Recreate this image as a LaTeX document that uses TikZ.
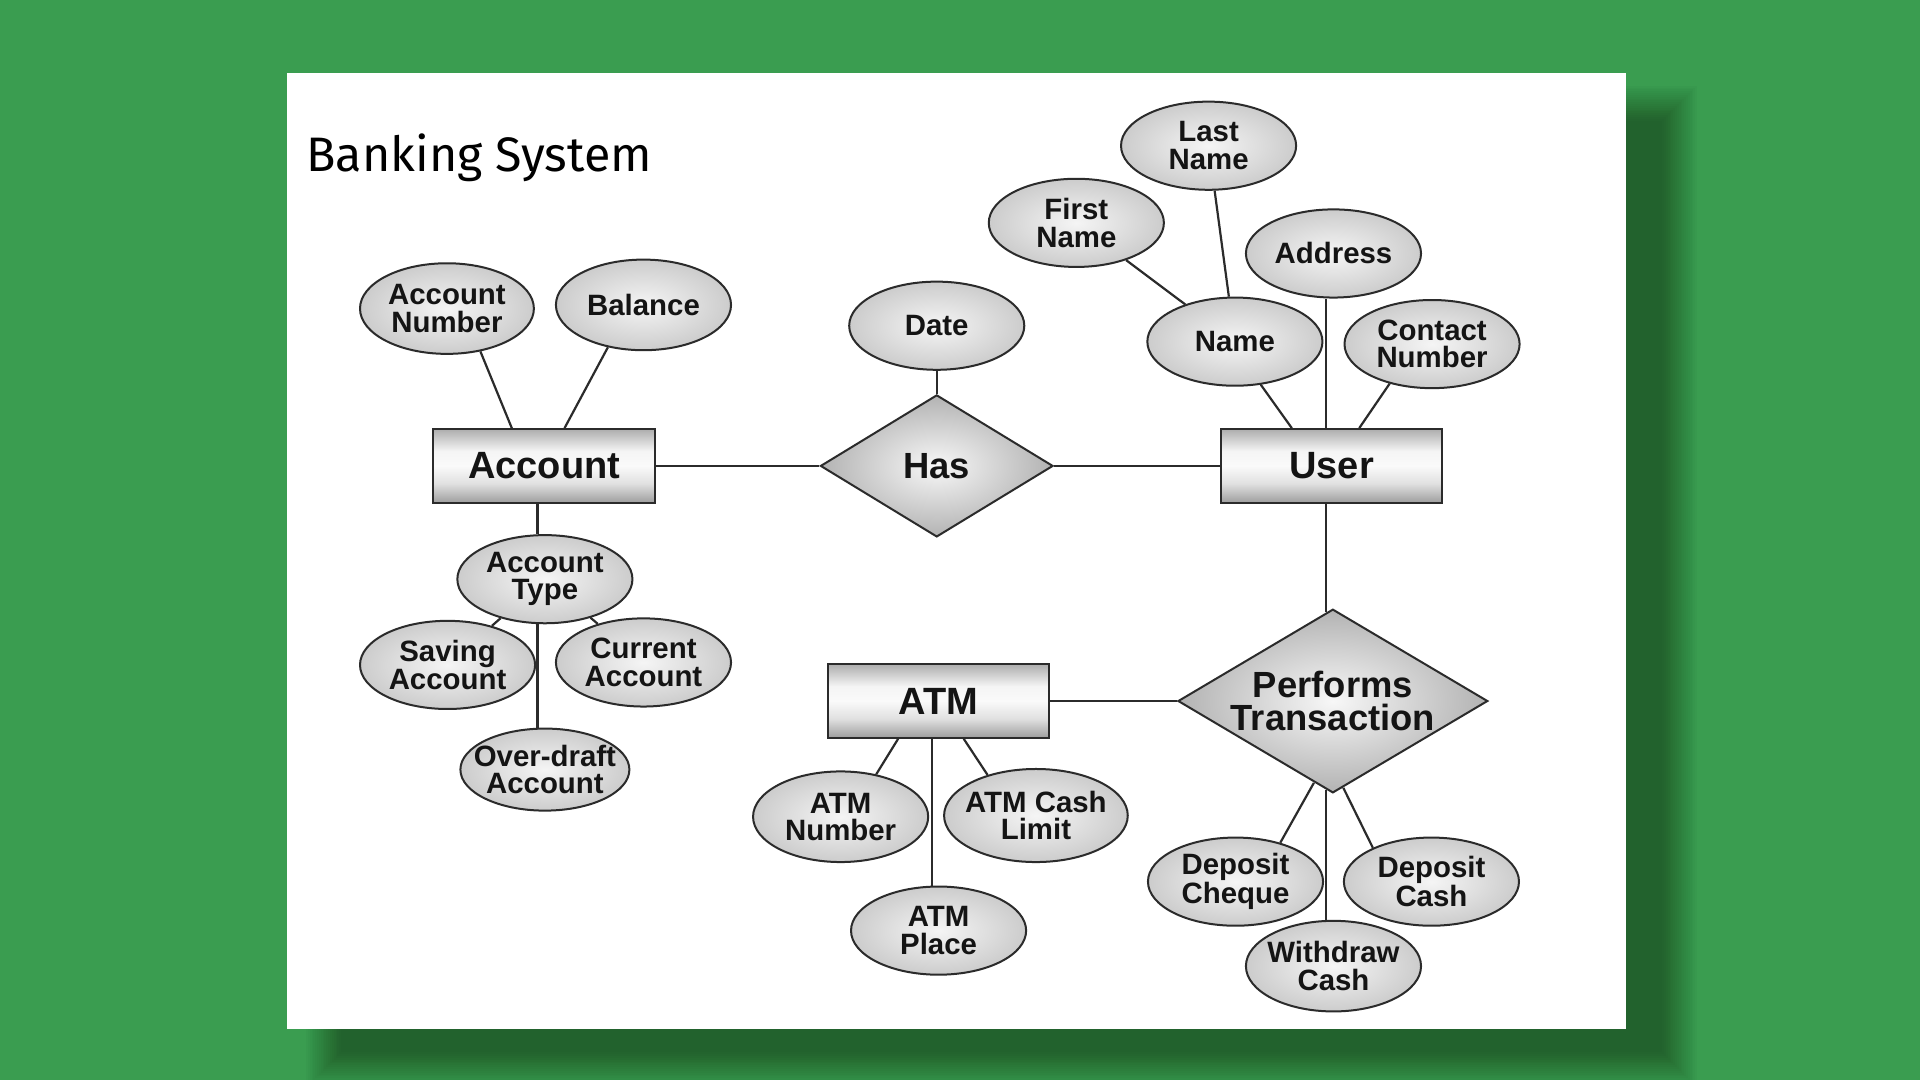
\documentclass[tikz,border=0pt]{standalone}
\usepackage{fontspec}
\setmainfont{Liberation Sans}
\newfontfamily\titlefont{Fira Sans}
\usetikzlibrary{shapes.geometric,calc}
\def\pu{0.61225pt}
\definecolor{bggreen}{HTML}{3A9D50}
\definecolor{ink}{HTML}{2B2B2B}
\pgfdeclareverticalshading{entshade}{100bp}{color(0bp)=(black!38); color(25bp)=(black!38); color(38bp)=(black!12); color(50bp)=(white!98!black); color(60bp)=(white!96!black); color(75bp)=(black!32); color(100bp)=(black!32)}
\tikzset{
 entity/.style={rectangle, draw=ink, line width=1pt, shading=entshade, minimum width=181*\pu, minimum height=60*\pu, inner sep=0pt, text=black!92, font=\fontsize{19}{17}\selectfont\bfseries},
 attr/.style={ellipse, draw=ink, line width=1pt, inner color=black!4, outer color=black!20, minimum width=143*\pu, minimum height=72*\pu, inner ysep=0pt, inner xsep=-6pt, align=center, text=black!92, font=\fontsize{14.7}{13.7}\selectfont\bfseries},
 rel/.style={diamond, draw=ink, line width=1pt, inner color=black!3, outer color=black!30, inner sep=0pt, align=center, text=black!92, font=\fontsize{18.2}{16.8}\selectfont\bfseries},
 conn/.style={draw=ink, line width=1.1pt},
}
\begin{document}
\begin{tikzpicture}[x=0.61225pt, y=-0.61225pt]
\useasboundingbox (0,0) rectangle (1568,882);
\fill[bggreen] (0,0) rectangle (1568,882);
% card shadow
\foreach \k in {0,...,19} {
  \fill[black, opacity=0.02] (250+1.5*\k,70+1.5*\k) rectangle (1386-1.5*\k,888-1.5*\k);
}
% card
\fill[white] (234,60) rectangle (1328,840);
% title
\node[anchor=base west, inner sep=0pt, font=\titlefont\fontsize{24.2}{24}\selectfont] (title) at (250,140) {Banking System};

% entities
\node[entity] (acc) at (444.5,380.5) {Account};
\node[entity] (user) at (1087.5,380.5) {User};
\node[entity] (atm) at (766.5,572.5) {ATM};
% relationships
\node[rel, minimum width=190*\pu, minimum height=116*\pu, shape aspect=1.64] (has) at (765,380.5) {Has};
\node[rel, minimum width=253*\pu, minimum height=150*\pu, shape aspect=1.69] (pt) at (1088.5,572.5) {Performs\\Transaction};

% attributes
\node[attr, minimum width=142*\pu, minimum height=74*\pu] (an) at (365,252) {Account\\Number};
\node[attr, minimum height=74*\pu] (bal) at (525.5,249) {Balance};
\node[attr] (date) at (765,266) {Date};
\node[attr] (ln) at (987,119) {Last\\Name};
\node[attr] (fn) at (879,182) {First\\Name};
\node[attr] (addr) at (1089,207) {Address};
\node[attr] (name) at (1008.5,279) {Name};
\node[attr] (cn) at (1169.5,281) {Contact\\Number};
\node[attr] (at) at (445,473) {Account\\Type};
\node[attr] (sa) at (365.5,543) {Saving\\Account};
\node[attr] (ca) at (525.5,541) {Current\\Account};
\node[attr, minimum width=138*\pu, minimum height=67*\pu] (od) at (445,628.5) {Over-draft\\Account};
\node[attr, minimum height=74*\pu] (anum) at (686.5,667) {ATM\\Number};
\node[attr, minimum width=150*\pu, minimum height=76*\pu] (acl) at (846,666) {ATM Cash\\Limit};
\node[attr] (ap) at (766.5,760) {ATM\\Place};
\node[attr] (dc) at (1009,720) {Deposit\\Cheque};
\node[attr] (dcash) at (1169,720) {Deposit\\Cash};
\node[attr, minimum height=74*\pu] (wc) at (1089,789) {Withdraw\\Cash};

% connectors
\draw[conn] (an.-52) -- ($(acc.north)+(-26.5,0)$);
\draw[conn] (bal.-130) -- ($(acc.north)+(16.5,0)$);
\draw[conn] ($(acc.south)+(-5.5,0)$) -- ($(at.north)+(-6,0)$);
\draw[conn] ($(at.south)+(-6,0)$) -- ($(od.north)+(-6,0)$);
\draw[conn] (at) -- (sa);
\draw[conn] (at) -- (ca);
\draw[conn] (acc.east) -- (has.west);
\draw[conn] (has.east) -- (user.west);
\draw[conn] (date.south) -- (has.north);
\draw[conn] (name.-59) -- ($(user.north)+(-32.5,0)$);
\draw[conn] ($(addr.south)+(-6,0)$) -- ($(user.north)+(-4.5,0)$);
\draw[conn] (cn.-137) -- ($(user.north)+(22.5,0)$);
\draw[conn] (fn) -- (name);
\draw[conn] (ln) -- (name);
\draw[conn] ($(user.south)+(-4.5,0)$) -- ($(pt.north)+(-5.5,3.3)$);
\draw[conn] (atm.east) -- (pt.west);
\draw[conn] ($(atm.south)+(-33,0)$) -- (anum.50);
\draw[conn] ($(atm.south)+(20.5,0)$) -- (acl.140);
\draw[conn] ($(atm.south)+(-5.5,0)$) -- ($(ap.north)+(-5.5,0)$);
\draw[conn] ($(pt.south)+(-15.5,-9)$) -- (dc.41);
\draw[conn] ($(pt.south)+(-5.5,-3.3)$) -- ($(wc.north)+(-6,0)$);
\draw[conn] ($(pt.south)+(8.5,-5)$) -- (dcash.150);
\end{tikzpicture}
\end{document}
